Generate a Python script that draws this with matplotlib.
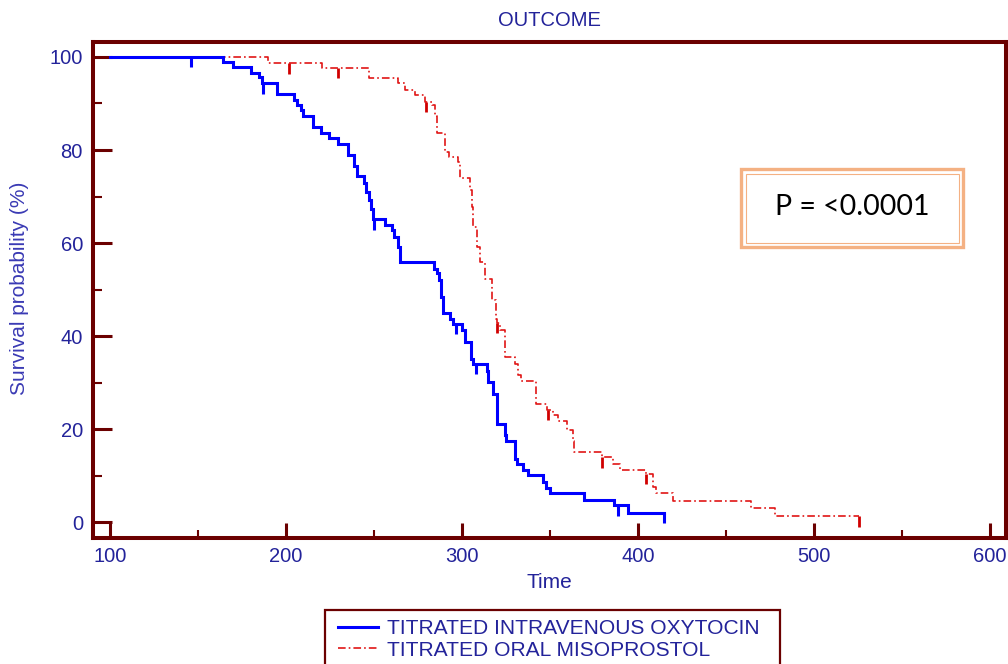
import matplotlib
matplotlib.use("Agg")
import matplotlib.pyplot as plt
from matplotlib.patches import Rectangle
import numpy as np

plt.rcParams['font.family'] = ['Liberation Sans', 'DejaVu Sans']
plt.rcParams['lines.scale_dashes'] = False

# ---------------- data ----------------
title = "OUTCOME"
x_label = "Time"
y_label = "Survival probability (%)"
series_names = ["TITRATED INTRAVENOUS OXYTOCIN", "TITRATED ORAL MISOPROSTOL"]
p_text = "P = <0.0001"

x_ticks = [100, 200, 300, 400, 500, 600]
y_ticks = [0, 20, 40, 60, 80, 100]

# Oxytocin (blue) step curve: event times and survival after each step
oxy_time = [100, 164.4, 169.7, 180.1, 184.7, 186.2, 194.7, 204.5, 206.4, 208.3, 209.8,
            215.2, 219.7, 224.6, 229.7, 235.4, 238.8, 240.2, 244.3, 245.5, 247.3,
            248.5, 249.6, 256.0, 260.0, 261.4, 263.8, 264.8, 284.3, 285.6, 287.1,
            288.1, 289.4, 293.2, 294.7, 299.8, 301.7, 304.9, 306.0, 314.0, 315.0,
            317.4, 319.7, 324.4, 325.0, 330.1, 331.4, 334.5, 337.3, 345.8, 347.7,
            350.0, 369.5, 386.4, 394.5, 414.8]
oxy_surv = [100, 98.8, 97.8, 96.5, 95.6, 94.3, 92.0, 90.8, 89.7, 88.5, 87.3,
            84.9, 83.7, 82.5, 81.4, 78.9, 76.6, 74.4, 73.0, 71.0, 69.2,
            67.4, 65.1, 63.9, 62.8, 61.4, 59.2, 56.0, 54.5, 53.5, 52.0,
            48.5, 44.9, 43.8, 42.6, 41.4, 38.8, 35.2, 34.0, 32.5, 30.2,
            27.5, 21.2, 18.7, 17.6, 13.7, 12.6, 11.2, 10.1, 8.7, 7.5,
            6.3, 4.9, 3.7, 2.0, 2.0]
oxy_censor_time = [146, 186.8, 249.9, 296.4, 308.0, 388.6, 414.8]
oxy_censor_surv = [100, 94.3, 65.1, 42.6, 34.0, 3.7, 2.0]

# Misoprostol (red) step curve
miso_time = [100, 190.0, 220.3, 247.0, 263.8, 267.6, 273.3, 279.0, 282.8, 284.7, 286.0,
             290.3, 292.8, 297.9, 298.9, 304.5, 305.5, 306.5, 308.3, 310.2, 313.0,
             316.9, 319.3, 319.7, 321.6, 324.4, 330.1, 332.0, 333.3, 342.0, 348.1,
             351.5, 354.7, 359.5, 362.9, 363.6, 379.4, 386.0, 389.8, 404.5, 408.7,
             410.2, 420.0, 464.0, 477.8, 525.7]
miso_surv = [100, 98.6, 97.6, 95.4, 94.3, 92.9, 91.8, 90.4, 89.7, 87.2, 83.6,
             79.6, 78.6, 77.5, 73.9, 71.4, 67.8, 63.5, 59.2, 56.0, 52.4,
             47.7, 43.8, 42.8, 41.4, 35.6, 34.1, 31.6, 30.4, 25.5, 24.2,
             23.0, 21.8, 19.8, 17.6, 15.1, 14.0, 12.6, 11.2, 10.5, 7.6,
             6.3, 4.7, 3.1, 1.3, 1.3]
miso_censor_time = [201.7, 229.7, 279.3, 319.8, 348.6, 379.8, 404.8, 525.7]
miso_censor_surv = [98.6, 97.6, 90.4, 42.8, 24.2, 14.0, 10.5, 1.3]

# ---------------- style ----------------
W, H = 1008, 664
frame_col = "#6b0000"
text_col = "#23239a"
ylab_col = "#3a3ab4"
blue = "#0000ff"
red = "#e01515"
censor_len = 2.2

fig = plt.figure(figsize=(W / 100, H / 100), dpi=100)
L, R, T, B = 92.7, 1006, 42, 538
ax = fig.add_axes([L / W, 1 - B / H, (R - L) / W, (B - T) / H])

ax.set_xlim(90.17, 609.1)
ax.set_ylim(-3.33, 103.2)

# curves
ax.plot(oxy_time, oxy_surv, drawstyle='steps-post', color=blue, lw=2.2,
        solid_joinstyle='miter', label=series_names[0], zorder=3)
ax.plot(miso_time, miso_surv, drawstyle='steps-post', color=red, lw=1.2,
        linestyle=(0, (5.5, 2.2, 1.2, 2.2)), label=series_names[1], zorder=2)
ax.vlines(oxy_censor_time, np.array(oxy_censor_surv) - censor_len, oxy_censor_surv,
          color=blue, lw=2.2, zorder=3)
ax.vlines(miso_censor_time, np.array(miso_censor_surv) - censor_len, miso_censor_surv,
          color="#d00000", lw=2.0, zorder=2)

# frame
for s in ax.spines.values():
    s.set_color(frame_col)
    s.set_linewidth(2.9)
ax.set_xticks(x_ticks)
ax.set_yticks(y_ticks)
ax.set_xticks([150, 250, 350, 450, 550], minor=True)
ax.set_yticks([10, 30, 50, 70, 90], minor=True)
ax.tick_params(axis='y', which='major', direction='in', length=13.5, width=2.2,
               color=frame_col, labelsize=14.5, labelcolor=text_col, pad=7)
ax.tick_params(axis='y', which='minor', direction='in', length=6.5, width=1.5,
               color=frame_col)
ax.tick_params(axis='x', which='major', direction='in', length=11, width=2.2,
               color=frame_col, labelsize=14.5, labelcolor=text_col, pad=6.5)
ax.tick_params(axis='x', which='minor', direction='in', length=5.5, width=1.5,
               color=frame_col)

# texts
fig.text(549 / W, 1 - 20 / H, title, ha='center', va='center', fontsize=14.5,
         color=text_col)
fig.text(549 / W, 1 - 583 / H, x_label, ha='center', va='center', fontsize=15,
         color=text_col)
fig.text(20 / W, 1 - 288 / H, y_label, ha='center', va='center', rotation=90,
         fontsize=15, color=ylab_col)

# legend (entries from the plotted lines, frame drawn separately)
leg = ax.legend(loc='upper left', bbox_to_anchor=(338 / W, 1 - 619 / H),
                bbox_transform=fig.transFigure, fontsize=15.1, frameon=False,
                borderaxespad=0, borderpad=0, labelspacing=0.12,
                handlelength=1.9, handletextpad=0.45)
for t in leg.get_texts():
    t.set_color(text_col)
leg_frame = Rectangle((325 / W, 1 - 680 / H), (780 - 325) / W, (680 - 610) / H,
                      transform=fig.transFigure, fill=False, edgecolor=frame_col,
                      lw=1.6)
fig.add_artist(leg_frame)

# P-value box
outer = Rectangle((741 / W, 1 - 247 / H), (963 - 741) / W, (247 - 169) / H,
                  transform=fig.transFigure, fill=False, edgecolor="#f4b183", lw=2.4)
inner = Rectangle((745.5 / W, 1 - 242.5 / H), (958.5 - 745.5) / W, (242.5 - 173.5) / H,
                  transform=fig.transFigure, fill=False, edgecolor="#f4b183", lw=0.8)
fig.add_artist(outer)
fig.add_artist(inner)
fig.text(852 / W, 1 - 207 / H, p_text, ha='center', va='center', fontsize=20.5,
         color='black', family=['Lato', 'DejaVu Sans'])

fig.savefig("out.png", dpi=100)
